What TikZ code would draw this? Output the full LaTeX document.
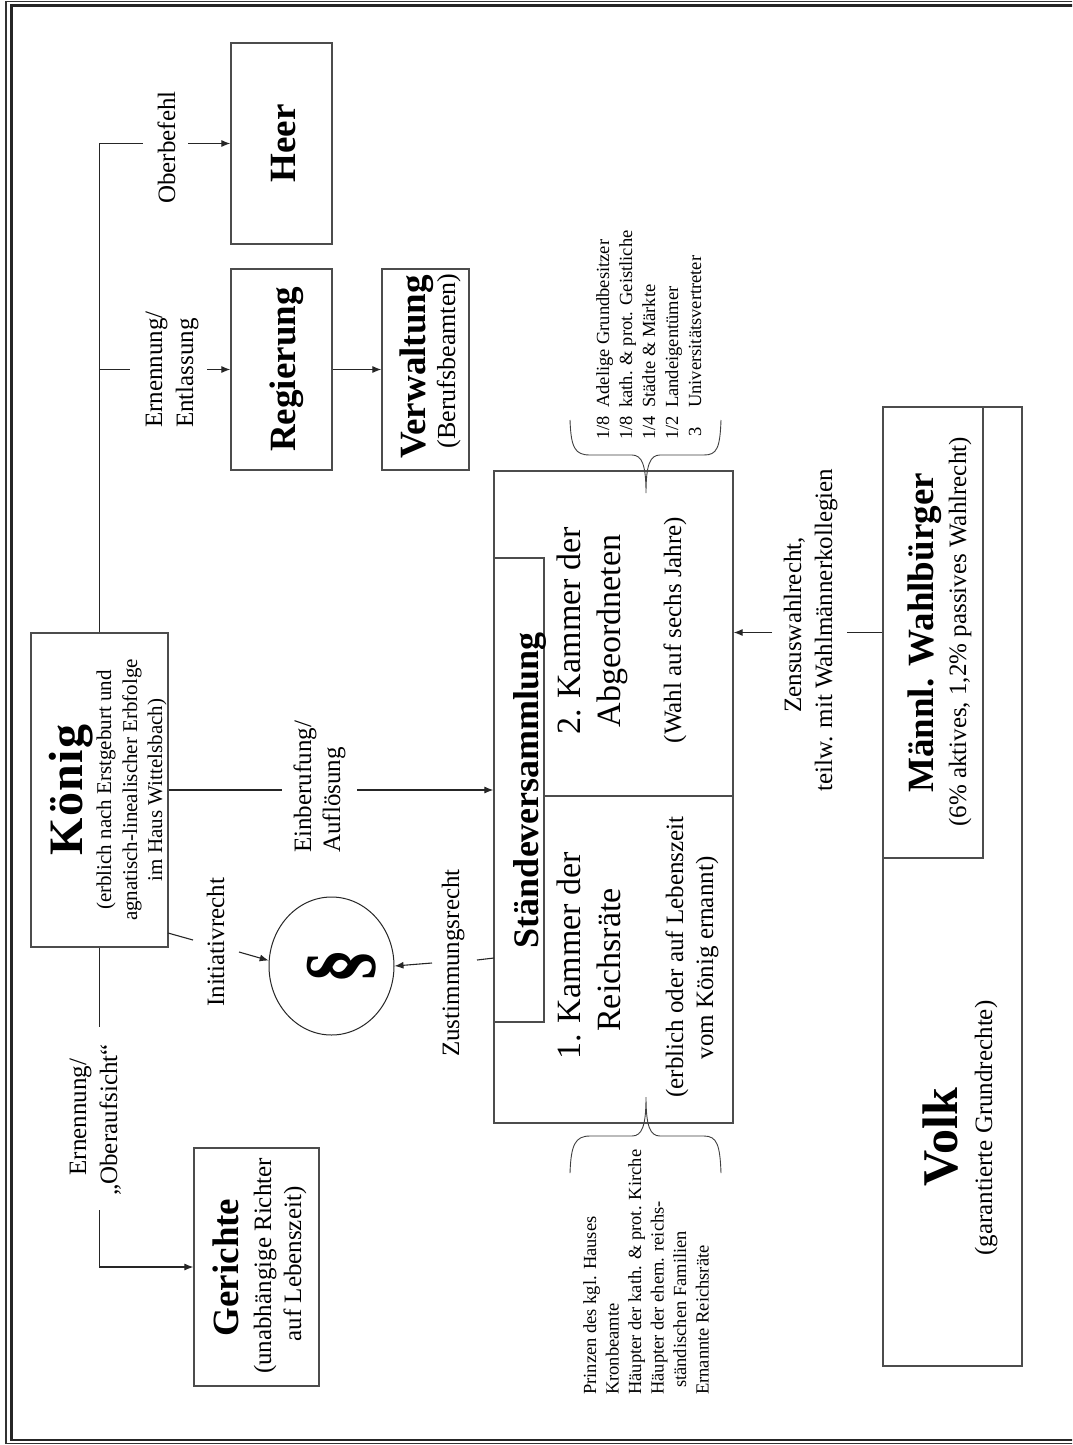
\documentclass[tikz,border=0pt]{standalone}
\usepackage{fontspec}
\setmainfont{Liberation Serif}
\usetikzlibrary{arrows.meta,shapes.geometric}
\newcommand\fz[1]{\fontsize{#1pt}{#1pt}\selectfont}
\tikzset{
  bx/.style={draw=black!70, line width=1.2pt, inner sep=0pt},
  conn/.style={draw=black!85, line width=1.1pt},
  arr/.style={-{Latex[length=9pt,width=7pt]}},
  brc/.style={draw=black!75, line width=0.9pt},
  tc/.style={rotate=90, inner sep=0pt, anchor=base},
  tl/.style={rotate=90, inner sep=0pt, anchor=base west},
}
\begin{document}
\begin{tikzpicture}[x=1pt,y=-1pt]
\useasboundingbox (0,0) rectangle (1072,1445);
\fill[white] (0,0) rectangle (1072,1445);
\begin{scope}
\clip (0,0) rectangle (1072,1445);
\draw[black!80, line width=1.2pt] (6,1.5) rectangle (1085,1443.5);
\draw[black!85, line width=2.8pt] (11.5,5.5) rectangle (1080,1440);
\end{scope}

% boxes
\node[bx, minimum width=101pt, minimum height=201pt] (heer) at (281.5,143.5) {};
\node[bx, minimum width=101pt, minimum height=201pt] (regierung) at (281.5,369.5) {};
\node[bx, minimum width=87pt, minimum height=201pt] (verwaltung) at (425.5,369.5) {};
\node[bx, minimum width=137pt, minimum height=314pt] (koenig) at (99.5,790) {};
\node[bx, minimum width=125pt, minimum height=238pt] (gericht) at (256.5,1267) {};
\node[bx, minimum width=239pt, minimum height=652pt] (staende) at (613.5,797) {};
\node[bx, minimum width=50pt, minimum height=464pt] (stitle) at (519,790) {};
\node[bx, minimum width=139pt, minimum height=959pt] (volk) at (952.5,886.5) {};
\node[bx, minimum width=100pt, minimum height=451pt] (wahl) at (933,632.5) {};
\node[ellipse, draw=black!85, line width=1pt, minimum width=125pt, minimum height=138pt, inner sep=0pt] (para) at (331.5,966) {};
\draw[bx] (stitle.east |- 0,796) -- (staende.east |- 0,796);

% gap coordinates
\coordinate (gH1) at (143,143.5);
\coordinate (gH2) at (188,143.5);
\coordinate (gR1) at (130,369.5);
\coordinate (gR2) at (207,369.5);
\coordinate (gE1) at (282,790);
\coordinate (gE2) at (357,790);
\coordinate (iA) at (168,933);
\coordinate (iB) at (193,940);
\coordinate (iC) at (239,952);
\coordinate (zA) at (494,958);
\coordinate (zB) at (477,960);
\coordinate (zC) at (432,963);
\coordinate (gG1) at (99.5,1027);
\coordinate (gG2) at (99.5,1210);
\coordinate (wA) at (847,632.5);
\coordinate (wB) at (772,632.5);

% connectors
\draw[conn] (koenig.north) -- (koenig.north |- heer.west) -- (gH1);
\draw[conn,arr] (gH2) -- (heer.west);
\draw[conn] (koenig.north |- regierung.west) -- (gR1);
\draw[conn,arr] (gR2) -- (regierung.west);
\draw[conn,arr] (regierung.east) -- (verwaltung.west);
\draw[conn] (koenig.east) -- (gE1);
\draw[conn,arr] (gE2) -- (stitle.west);
\draw[conn] (iA) -- (iB);
\draw[conn,arr] (iC) -- (para.175);
\draw[conn] (zA) -- (zB);
\draw[conn,arr] (zC) -- (para.east);
\draw[conn] (koenig.south) -- (gG1);
\draw[conn,arr] (gG2) |- (gericht.west);
\draw[conn] (wahl.west) -- (wA);
\draw[conn,arr] (wB) -- (wahl.west -| staende.east);

% braces
\draw[brc] (570,420) .. controls (571,448) and (575,455) .. (590,455) -- (632,455)
  .. controls (642,455) and (646,465) .. (646,493)
  .. controls (646,465) and (650,455) .. (660,455) -- (704,455)
  .. controls (717,455) and (720,448) .. (721,420);
\draw[brc] (570,1173) .. controls (571,1145) and (575,1136) .. (590,1136) -- (632,1136)
  .. controls (642,1136) and (646,1126) .. (646,1097)
  .. controls (646,1126) and (650,1136) .. (660,1136) -- (704,1136)
  .. controls (717,1136) and (720,1145) .. (721,1173);

% texts in boxes
\node[tc, font=\bfseries\fz{48}] (tK) at (82,790) {K\kern1.5ptö\kern1.5ptn\kern1.5pti\kern1.5ptg};
\node[tc, font=\fz{21}] (tK1) at (111,790) {(erblich nach Erstgeburt und};
\node[tc, font=\fz{21}] (tK2) at (137,790) {agnatisch-linealischer Erbfolge};
\node[tc, font=\fz{21}] (tK3) at (162,790) {im Haus Wittelsbach)};
\node[tc, font=\bfseries\fz{37}] (tH) at (295,143.5) {Heer};
\node[tc, font=\bfseries\fz{37}] (tR) at (295,369.5) {Regierung};
\node[tc, font=\bfseries\fz{37}] (tV) at (425,367) {Verwaltung};
\node[tc, font=\fz{26}] (tV1) at (455,361) {(Berufsbeamten)};
\node[tc, font=\bfseries\fz{37}] (tG) at (238,1267.5) {Gerichte};
\node[tc, font=\fz{25}] (tG1) at (271,1266) {(unabhängige Richter};
\node[tc, font=\fz{25}] (tG2) at (301,1264) {auf Lebenszeit)};
\node[tc, font=\bfseries\fz{36}] (tS) at (538,790) {Ständeversammlung};
\node[tc, font=\fz{34}] (tS1) at (580,956) {1. Kammer der};
\node[tc, font=\fz{34}] (tS2) at (620,960) {Reichsräte};
\node[tc, font=\fz{25}] (tS3) at (683,957) {(erblich oder auf Lebenszeit};
\node[tc, font=\fz{25}] (tS4) at (713,958) {vom König ernannt)};
\node[tc, font=\fz{34}] (tA1) at (580,631) {2. Kammer der};
\node[tc, font=\fz{34}] (tA2) at (620,631) {Abgeordneten};
\node[tc, font=\fz{25}] (tA3) at (681,630) {(Wahl auf sechs Jahre)};
\node[tc, font=\bfseries\fz{37}] (tW) at (933,633) {Männl. Wahlbürger};
\node[tc, font=\fz{25}] (tW1) at (966,632) {(6\% aktives, 1,2\% passives Wahlrecht)};
\node[tc, font=\bfseries\fz{50}] (tVo) at (957,1137) {Volk};
\node[tc, font=\fz{25}] (tVo1) at (992,1128) {(garantierte Grundrechte)};
\node[rotate=90, inner sep=0pt, font=\bfseries\fz{86}] (tP) at (341.5,966) {\scalebox{0.8}[1]{§}};

% connector labels
\node[tc, font=\fz{25}] (lO) at (175,147.5) {Oberbefehl};
\node[tl, font=\fz{25}] (lR1) at (162,428) {Ernennung/};
\node[tl, font=\fz{25}] (lR2) at (193,428) {Entlassung};
\node[tl, font=\fz{25}] (lE1) at (311,853) {Einberufung/};
\node[tl, font=\fz{25}] (lE2) at (340,853) {Auflösung};
\node[tl, font=\fz{25}] (lI) at (224,1007) {Initiativrecht};
\node[tl, font=\fz{25}] (lZ) at (459,1057) {Zustimmungsrecht};
\node[tc, font=\fz{25}] (lG1) at (86,1117) {Ernennung/};
\node[tc, font=\fz{25}] (lG2) at (117,1120) {„Oberaufsicht“};
\node[tc, font=\fz{25}] (lW1) at (801,625) {Zensuswahlrecht,};
\node[tc, font=\fz{25}] (lW2) at (832,630) {teilw. mit Wahlmännerkollegien};

% lists
\node[tl, font=\fz{18.5}] (a1) at (609,440) {\makebox[32pt][l]{1/8}Adelige Grundbesitzer};
\node[tl, font=\fz{18.5}] (a2) at (632,440) {\makebox[32pt][l]{1/8}kath. \& prot. Geistliche};
\node[tl, font=\fz{18.5}] (a3) at (655,440) {\makebox[32pt][l]{1/4}Städte \& Märkte};
\node[tl, font=\fz{18.5}] (a4) at (678,440) {\makebox[32pt][l]{1/2}Landeigentümer};
\node[tl, font=\fz{18.5}] (a5) at (701,440) {\makebox[32pt][l]{\,3}Universitätsvertreter};
\node[tl, font=\fz{18.5}] (b1) at (596,1395) {Prinzen des kgl. Hauses};
\node[tl, font=\fz{18.5}] (b2) at (618.5,1395) {Kronbeamte};
\node[tl, font=\fz{18.5}] (b3) at (641,1395) {Häupter der kath. \& prot. Kirche};
\node[tl, font=\fz{18.5}] (b4) at (663.5,1395) {Häupter der ehem. reichs-};
\node[tl, font=\fz{18.5}] (b5) at (686,1388) {ständischen Familien};
\node[tl, font=\fz{18.5}] (b6) at (708.5,1395) {Ernannte Reichsräte};
\end{tikzpicture}
\end{document}
